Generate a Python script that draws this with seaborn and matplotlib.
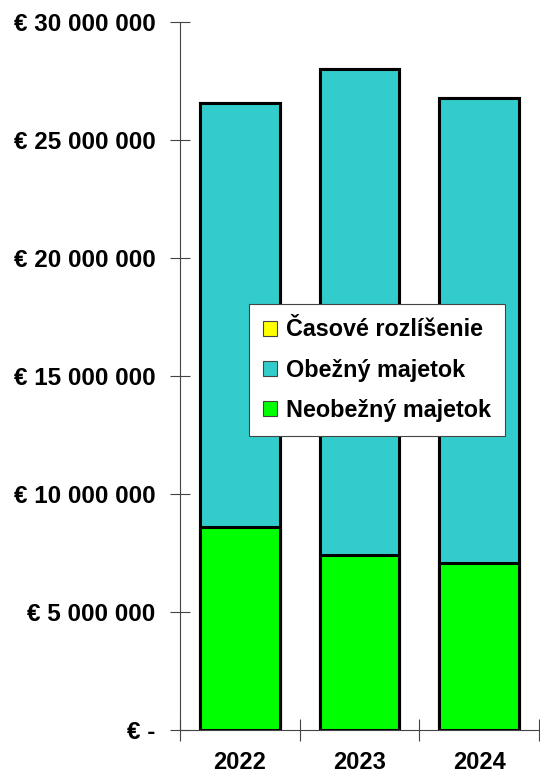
import pandas as pd
import matplotlib
matplotlib.use('Agg')
import matplotlib.pyplot as plt
import seaborn as sns
from matplotlib.patches import Patch

# data (EUR)
years = ['2022', '2023', '2024']
neobezny = [8610000, 7430000, 7090000]
obezny = [17950000, 20560000, 19670000]
casove = [0, 0, 0]

yticks = [0, 5000000, 10000000, 15000000, 20000000, 25000000, 30000000]
ytick_labels = ['€ -', '€ 5 000 000', '€ 10 000 000', '€ 15 000 000',
                '€ 20 000 000', '€ 25 000 000', '€ 30 000 000']

series_names = ['Časové rozlíšenie', 'Obežný majetok', 'Neobežný majetok']
series_colors = ['#FFFF00', '#33CCCC', '#00FF00']

df = pd.DataFrame({'rok': years, 'neobezny': neobezny,
                   'obezny': obezny, 'casove': casove})
df['top_obezny'] = df['neobezny'] + df['obezny']
df['top_casove'] = df['top_obezny'] + df['casove']

sns.set_style('white')
plt.rcParams['font.family'] = ['Liberation Sans', 'DejaVu Sans']
plt.rcParams['font.weight'] = 'bold'
plt.rcParams['text.color'] = 'black'
plt.rcParams['xtick.labelcolor'] = 'black'
plt.rcParams['ytick.labelcolor'] = 'black'

fig = plt.figure(figsize=(5.4, 7.76), dpi=100)
ax = fig.add_axes([180 / 540, 1 - 730 / 776, 359 / 540, 708 / 776])

# stacked bars drawn as overlapping cumulative totals
bar_kw = dict(width=0.667, edgecolor='black', linewidth=2.2, saturation=1, ax=ax)
sns.barplot(data=df, x='rok', y='top_casove', color=series_colors[0], **bar_kw)
sns.barplot(data=df, x='rok', y='top_obezny', color=series_colors[1], **bar_kw)
sns.barplot(data=df, x='rok', y='neobezny', color=series_colors[2], **bar_kw)

ax.set_xlim(-0.5, 2.5)
ax.set_ylim(0, 30000000)
ax.set_yticks(yticks)
ax.set_yticklabels(ytick_labels, fontsize=17.5, fontweight='bold')
ax.set_xticks(range(len(years)))
ax.set_xticklabels(years, fontsize=17, fontweight='bold')
ax.set_xticks([-0.5, 0.5, 1.5, 2.5], minor=True)
ax.tick_params(axis='x', which='major', length=0, pad=15, bottom=True)
ax.tick_params(axis='x', which='minor', direction='inout', length=16,
               width=0.8, color='#444444', bottom=True)
ax.tick_params(axis='y', direction='inout', length=15, width=0.8,
               color='#444444', pad=10, left=True)
ax.set_xlabel('')
ax.set_ylabel('')

for s in ['top', 'right']:
    ax.spines[s].set_visible(False)
for s in ['left', 'bottom']:
    ax.spines[s].set_color('#444444')
    ax.spines[s].set_linewidth(0.8)

handles = [Patch(facecolor=c, edgecolor='#444444', linewidth=0.8, label=n)
           for c, n in zip(series_colors, series_names)]
leg = fig.legend(handles=handles, loc='upper left',
                 bbox_to_anchor=(249 / 540, 1 - 304 / 776),
                 prop={'weight': 'bold', 'size': 16.8},
                 frameon=True, fancybox=False, framealpha=1,
                 edgecolor='#444444', handlelength=0.6, handleheight=0.6,
                 handletextpad=0.36, labelspacing=0.74, borderpad=0.62,
                 borderaxespad=0)
leg.get_frame().set_linewidth(0.8)
for t in leg.get_texts():
    t.set_color('black')

fig.savefig('out.png', dpi=100)
